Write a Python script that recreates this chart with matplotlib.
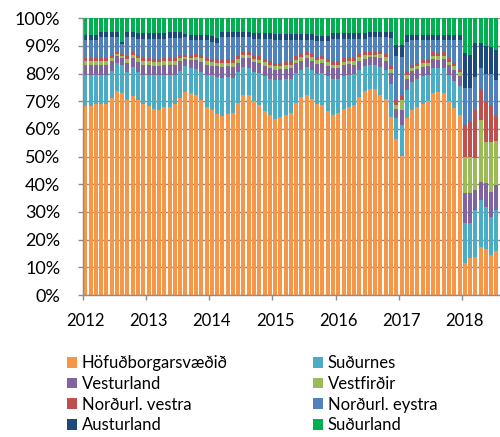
import matplotlib
matplotlib.use("Agg")
import matplotlib.pyplot as plt
import numpy as np

series_names = ["Höfuðborgarsvæðið", "Suðurnes", "Vesturland", "Vestfirðir",
                "Norðurl. vestra", "Norðurl. eystra", "Austurland", "Suðurland"]
colors = ["#F79646", "#4BACC6", "#8064A2", "#9BBB59",
          "#C0504D", "#4F81BD", "#1F497D", "#00B050"]
year_labels = ["2012", "2013", "2014", "2015", "2016", "2017", "2018"]

# monthly shares (%), Jan 2012 - Aug 2018
hofudborg = [68.3, 68.3, 69.0, 69.0, 69.0, 71.1, 73.8, 73.1, 70.4, 71.9, 70.4, 69.0,
             68.3, 67.4, 66.8, 68.1, 68.1, 69.0, 71.1, 73.4, 73.0, 72.3, 70.4, 68.1,
             66.8, 65.4, 64.6, 65.4, 65.6, 69.5, 72.3, 72.2, 70.1, 68.7, 66.5, 65.1,
             63.6, 64.2, 64.9, 65.7, 69.3, 71.4, 72.3, 70.7, 69.0, 68.7, 66.5, 65.1,
             65.7, 67.2, 68.1, 68.7, 71.4, 73.6, 74.3, 74.3, 72.3, 70.7, 64.4, 56.3,
             50.4, 64.0, 67.0, 68.0, 69.0, 70.0, 73.0, 73.5, 73.0, 70.0, 67.5, 65.0,
             11.5, 13.3, 13.9, 17.5, 16.5, 14.5, 16.0, 14.5]
sudurnes = [11.3, 11.3, 10.6, 10.6, 10.6, 10.0, 10.0, 10.0, 10.3, 10.4, 10.3, 10.6,
            11.3, 12.0, 12.6, 11.5, 11.5, 10.6, 10.0, 9.2, 9.0, 9.5, 10.3, 11.5,
            12.6, 13.5, 14.0, 13.5, 13.0, 11.0, 10.0, 10.0, 10.5, 11.5, 12.5, 13.0,
            14.0, 13.5, 13.0, 12.5, 11.0, 10.0, 10.0, 10.5, 11.0, 11.5, 12.5, 13.0,
            12.5, 12.0, 11.5, 11.0, 10.0, 9.0, 8.8, 8.8, 10.0, 10.5, 12.0, 7.5,
            11.0, 10.0, 10.0, 10.0, 10.0, 9.5, 9.0, 8.5, 9.0, 9.5, 10.0, 10.5,
            14.4, 12.7, 16.8, 16.8, 15.4, 13.8, 14.7, 12.5]
vesturland = [3.5, 3.5, 3.5, 3.5, 3.5, 3.3, 2.5, 2.4, 3.3, 3.3, 3.5, 3.5,
              3.5, 3.5, 3.5, 3.5, 3.5, 3.5, 3.3, 2.6, 2.8, 3.0, 3.5, 3.5,
              3.5, 3.8, 3.8, 3.8, 3.8, 3.5, 3.3, 3.3, 3.5, 3.5, 3.8, 3.8,
              3.8, 3.8, 3.8, 3.8, 3.5, 3.3, 3.3, 3.5, 3.5, 3.8, 3.8, 3.8,
              3.8, 3.8, 3.8, 3.5, 3.3, 2.8, 2.8, 2.8, 3.5, 3.5, 3.8, 3.5,
              5.5, 4.0, 3.8, 3.5, 3.5, 3.3, 3.3, 3.0, 3.3, 3.5, 3.8, 3.8,
              11.1, 11.0, 7.2, 6.7, 8.5, 9.0, 9.0, 11.0]
vestfirdir = [1.3, 1.3, 1.3, 1.3, 1.3, 1.2, 0.8, 0.8, 1.2, 1.2, 1.3, 1.3,
              1.3, 1.3, 1.3, 1.3, 1.3, 1.3, 1.2, 0.8, 1.0, 1.2, 1.3, 1.3,
              1.3, 1.3, 1.3, 1.3, 1.3, 1.3, 1.2, 1.2, 1.2, 1.3, 1.3, 1.3,
              1.3, 1.3, 1.3, 1.3, 1.3, 1.2, 1.2, 1.2, 1.3, 1.3, 1.3, 1.3,
              1.3, 1.3, 1.3, 1.3, 1.2, 1.2, 1.0, 1.0, 1.3, 1.3, 1.3, 1.5,
              3.6, 1.5, 1.3, 1.3, 1.3, 1.2, 1.2, 1.2, 1.2, 1.3, 1.3, 1.3,
              13.0, 13.0, 11.5, 22.2, 15.0, 18.1, 16.0, 14.0]
nordvestra = [1.2, 1.2, 1.2, 1.2, 1.2, 1.2, 0.8, 0.7, 1.2, 1.2, 1.2, 1.2,
              1.2, 1.2, 1.2, 1.2, 1.2, 1.2, 1.2, 0.8, 1.0, 1.2, 1.2, 1.2,
              1.2, 1.2, 1.2, 1.2, 1.2, 1.2, 1.2, 1.2, 1.2, 1.2, 1.2, 1.2,
              1.2, 1.2, 1.2, 1.2, 1.2, 1.2, 1.2, 1.2, 1.2, 1.2, 1.2, 1.2,
              1.2, 1.2, 1.2, 1.2, 1.2, 1.2, 1.0, 1.0, 1.2, 1.2, 1.2, 1.5,
              1.5, 1.5, 1.2, 1.2, 1.2, 1.2, 1.2, 1.2, 1.2, 1.2, 1.2, 1.2,
              11.4, 12.6, 17.5, 10.8, 14.5, 13.3, 9.0, 15.0]
nordeystra = [6.4, 6.4, 6.4, 7.6, 7.6, 6.4, 5.3, 3.8, 6.8, 5.2, 5.9, 7.0,
              7.0, 7.2, 7.2, 7.0, 7.4, 7.4, 6.2, 6.5, 5.2, 4.8, 5.3, 6.4,
              6.1, 5.8, 8.3, 8.0, 8.3, 6.7, 5.2, 5.3, 6.1, 6.4, 7.3, 8.2,
              8.4, 8.3, 8.1, 7.8, 6.0, 5.2, 4.3, 5.2, 5.7, 5.2, 6.4, 8.2,
              8.1, 7.1, 6.7, 6.9, 5.5, 4.8, 5.3, 5.3, 4.9, 6.0, 10.0, 16.0,
              14.1, 10.5, 8.7, 8.0, 7.0, 6.8, 4.3, 4.6, 4.3, 6.5, 8.2, 10.2,
              13.3, 12.1, 12.0, 8.0, 10.0, 11.0, 13.0, 12.0]
austurland = [2.0, 2.0, 2.0, 2.0, 2.0, 2.0, 2.0, 0.8, 2.0, 2.0, 2.0, 2.0,
              2.0, 2.0, 2.0, 2.0, 2.0, 2.0, 2.0, 1.2, 2.0, 2.0, 2.0, 2.0,
              2.0, 2.0, 2.0, 2.0, 2.0, 2.0, 2.0, 2.0, 2.0, 2.0, 2.0, 2.0,
              2.0, 2.0, 2.0, 2.0, 2.0, 2.0, 2.0, 2.0, 2.0, 2.0, 2.0, 2.0,
              2.0, 2.0, 2.0, 2.0, 2.0, 2.0, 2.0, 2.0, 2.0, 2.0, 2.5, 4.0,
              4.3, 2.5, 2.0, 2.0, 2.0, 2.0, 2.0, 2.0, 2.0, 2.0, 2.0, 2.0,
              12.6, 12.0, 12.1, 9.0, 10.0, 10.0, 11.0, 10.0]
sudurland = [6.0, 6.0, 6.0, 4.8, 4.8, 4.8, 4.8, 8.4, 4.8, 4.8, 5.4, 5.4,
             5.4, 5.4, 5.4, 5.4, 5.0, 5.0, 5.0, 5.5, 6.0, 6.0, 6.0, 6.0,
             6.5, 7.0, 4.8, 4.8, 4.8, 4.8, 4.8, 4.8, 5.4, 5.4, 5.4, 5.4,
             5.7, 5.7, 5.7, 5.7, 5.7, 5.7, 5.7, 5.7, 6.3, 6.3, 6.3, 5.4,
             5.4, 5.4, 5.4, 5.4, 5.4, 5.4, 4.8, 4.8, 4.8, 4.8, 4.8, 9.7,
             9.6, 6.0, 6.0, 6.0, 6.0, 6.0, 6.0, 6.0, 6.0, 6.0, 6.0, 6.0,
             12.7, 13.3, 9.0, 9.0, 10.1, 10.3, 11.3, 11.0]

data = [hofudborg, sudurnes, vesturland, vestfirdir,
        nordvestra, nordeystra, austurland, sudurland]

plt.rcParams['font.family'] = ['Lato', 'DejaVu Sans']

W, H = 500, 437
fig = plt.figure(figsize=(W / 100, H / 100), dpi=100)
left_px, right_px, top_px, bot_px = 82.7, 504.3, 18.3, 295.0
ax = fig.add_axes([left_px / W, 1 - bot_px / H, (right_px - left_px) / W, (bot_px - top_px) / H])

arr = np.array(data, dtype=float)
shares = arr / arr.sum(axis=0) * 100
n = arr.shape[1]
x = np.arange(n)
bottom = np.zeros(n)
handles = []
for name, vals, c in zip(series_names, shares, colors):
    b = ax.bar(x, vals, bottom=bottom, width=0.76, color=c, linewidth=0, label=name, zorder=2)
    handles.append(b)
    bottom += vals

ax.set_xlim(-0.5, n - 0.5)
ax.set_ylim(0, 100)
ax.set_yticks(np.arange(0, 101, 10))
ax.set_yticklabels([f"{v}%" for v in range(0, 101, 10)])
ax.yaxis.grid(True, color="#8C8C8C", linewidth=1.0, zorder=0)
ax.set_axisbelow(True)

ax.set_xticks(np.arange(0, n, 12) - 0.5)
ax.set_xticklabels([])
ax.set_xticks(np.arange(0, n, 12), minor=True)
ax.set_xticklabels(year_labels, minor=True)
ax.tick_params(axis='x', which='major', length=3.6, color="#8C8C8C", width=1)
ax.tick_params(axis='x', which='minor', length=0, pad=13, labelsize=12)
ax.tick_params(axis='y', length=3.6, color="#8C8C8C", width=1, labelsize=13, pad=12.5)

for s in ["top", "right"]:
    ax.spines[s].set_visible(False)
for s in ["left", "bottom"]:
    ax.spines[s].set_color("#8C8C8C")
    ax.spines[s].set_linewidth(1)

col1 = [handles[i] for i in (0, 2, 4, 6)]
col2 = [handles[i] for i in (1, 3, 5, 7)]
common = dict(frameon=False, loc="upper left", fontsize=12, handlelength=0.62,
              handleheight=0.62, handletextpad=0.25, labelspacing=0.29, borderpad=0,
              borderaxespad=0, bbox_transform=fig.transFigure)
leg1 = fig.legend(handles=col1, labels=[series_names[i] for i in (0, 2, 4, 6)],
                  bbox_to_anchor=(67 / W, 1 - 355 / H), **common)
leg2 = fig.legend(handles=col2, labels=[series_names[i] for i in (1, 3, 5, 7)],
                  bbox_to_anchor=(313 / W, 1 - 355 / H), **common)

fig.savefig("out.png", dpi=100)
